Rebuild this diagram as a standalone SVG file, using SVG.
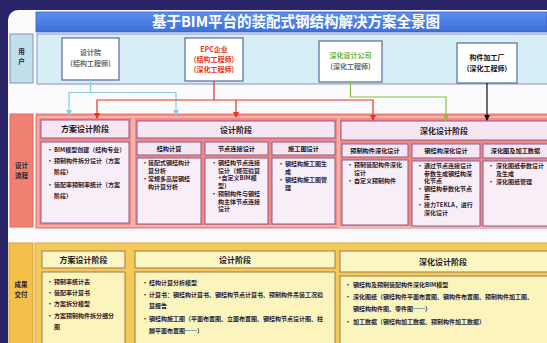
<svg xmlns="http://www.w3.org/2000/svg" width="547" height="343" viewBox="0 0 547 343">
<defs>
<style>
.t{font-family:"Noto Sans CJK SC","Noto Sans",sans-serif;font-weight:bold;}
.c{font-size:6px;fill:#2b2230;}
.h{font-size:8px;fill:#1d1620;text-anchor:middle;}
.sh{font-size:6.2px;fill:#1d1620;text-anchor:middle;}
.lb{font-size:6.5px;fill:#2b2230;text-anchor:middle;}
.fh{fill:#f6e6f4;stroke:#8c5a92;stroke-width:1;}
.fc{fill:#f8eef8;stroke:#8c5a92;stroke-width:1;}
.fg{fill:#f28a80;stroke:#f7b0b0;stroke-width:2;}
.dh{fill:#fcf6c4;stroke:#9c7a4a;stroke-width:1;}
.dc{fill:#fbf4bc;stroke:#9c7a4a;stroke-width:1;}
.user{fill:#ffffff;stroke:#5c6894;stroke-width:1.2;}
.cn{fill:none;stroke-width:1.2;}
</style>
<marker id="mB" markerWidth="6" markerHeight="6" refX="5" refY="3" orient="auto" markerUnits="userSpaceOnUse" viewBox="0 0 6 6"><path d="M0,0 L6,3 L0,6 Z" fill="#8ccbe2"/></marker>
<marker id="mRd" markerWidth="6" markerHeight="6" refX="5" refY="3" orient="auto" markerUnits="userSpaceOnUse" viewBox="0 0 6 6"><path d="M0,0 L6,3 L0,6 Z" fill="#e8321e"/></marker>
<marker id="mG" markerWidth="6" markerHeight="6" refX="5" refY="3" orient="auto" markerUnits="userSpaceOnUse" viewBox="0 0 6 6"><path d="M0,0 L6,3 L0,6 Z" fill="#86c040"/></marker>
<marker id="mK" markerWidth="6" markerHeight="6" refX="5" refY="3" orient="auto" markerUnits="userSpaceOnUse" viewBox="0 0 6 6"><path d="M0,0 L6,3 L0,6 Z" fill="#111111"/></marker>
<linearGradient id="title" x1="0" y1="0" x2="0" y2="1"><stop offset="0" stop-color="#5a8ff0"/><stop offset="1" stop-color="#3f6fd8"/></linearGradient>
</defs>

<rect x="0" y="0" width="547" height="343" fill="#2a2468"/>
<rect x="8" y="10" width="560" height="345" rx="10" fill="#fbfbfd"/>

<g id="title-bar">
<rect x="36" y="12" width="511" height="20" fill="url(#title)" stroke="#3a5cc0" stroke-width="0.8"/>
<text class="t" x="296" y="27" font-size="14.5" fill="#ffffff" text-anchor="middle">基于BIM平台的装配式钢结构解决方案全景图</text>
</g>

<g id="row-users">
<rect x="10" y="34" width="23" height="49" fill="#bfe0ec" stroke="#8a90c0" stroke-width="1"/>
<text class="t lb" x="21.5" y="54">用</text>
<text class="t lb" x="21.5" y="64">户</text>
<rect x="37" y="34" width="512" height="50" fill="#d6eef6" stroke="#8a90c0" stroke-width="1"/>
</g>

<g id="node-sjy">
<rect class="user" x="62" y="38" width="57" height="42"/>
<text class="t" x="90.5" y="55" font-size="7" fill="#6a6a6a" text-anchor="middle">设计院</text>
<text class="t" x="90.5" y="66" font-size="7" fill="#6a6a6a" text-anchor="middle">(结构工程师)</text>
</g>
<g id="node-epc">
<rect class="user" x="185" y="38" width="58" height="43"/>
<text class="t" x="214" y="52" font-size="7" fill="#e8321e" text-anchor="middle">EPC企业</text>
<text class="t" x="214" y="62" font-size="7" fill="#e8321e" text-anchor="middle">(结构工程师)</text>
<text class="t" x="214" y="72" font-size="7" fill="#e8321e" text-anchor="middle">(深化工程师)</text>
</g>
<g id="node-shsj">
<rect class="user" x="319" y="41" width="63" height="41"/>
<text class="t" x="350.5" y="58" font-size="7" fill="#6cb33f" text-anchor="middle">深化设计公司</text>
<text class="t" x="350.5" y="69" font-size="7" fill="#6a6a6a" text-anchor="middle">(深化工程师)</text>
</g>
<g id="node-gjjg">
<rect class="user" x="457" y="43" width="60" height="40"/>
<text class="t" x="487" y="60" font-size="7" fill="#111111" text-anchor="middle">构件加工厂</text>
<text class="t" x="487" y="71" font-size="7" fill="#111111" text-anchor="middle">(深化工程师)</text>
</g>

<g id="row-flow">
<rect x="10" y="114" width="23" height="113" fill="#f08072" stroke="#e06a60" stroke-width="1"/>
<text class="t lb" x="21.5" y="168">设计</text>
<text class="t lb" x="21.5" y="178">流程</text>
<rect x="36" y="114" width="513" height="114" fill="#f28a80" stroke="#e87a72" stroke-width="1"/>
</g>

<g id="flow-fa">
<rect class="fg" x="38" y="117" width="94" height="109"/>
<rect class="fh" x="41" y="120" width="88" height="18"/>
<text class="t h" x="85" y="132">方案设计阶段</text>
<rect class="fc" x="41" y="142" width="88" height="81"/>
<text class="t c"><tspan x="47" y="152">•</tspan><tspan x="54" y="152">BIM模型创建（结构专业）</tspan><tspan x="47" y="163">•</tspan><tspan x="54" y="163">预制构件拆分设计（方案</tspan><tspan x="54" y="174">阶段）</tspan><tspan x="47" y="187">•</tspan><tspan x="54" y="187">装配率预制率统计（方案</tspan><tspan x="54" y="198">阶段）</tspan></text>
</g>

<g id="flow-sj">
<rect class="fg" x="134" y="117" width="204" height="109"/>
<rect class="fh" x="137" y="121" width="198" height="17"/>
<text class="t h" x="236" y="132.5">设计阶段</text>
<rect class="fh" x="137" y="142" width="64" height="13"/>
<text class="t sh" x="169" y="150.5">结构计算</text>
<rect class="fc" x="137" y="158" width="64" height="66"/>
<text class="t c"><tspan x="142" y="165">•</tspan><tspan x="148" y="165">装配式钢结构计</tspan><tspan x="148" y="172.5">算分析</tspan><tspan x="142" y="181">•</tspan><tspan x="148" y="181">常规多高层钢结</tspan><tspan x="148" y="188.5">构计算分析</tspan></text>
<rect class="fh" x="205" y="142" width="63" height="13"/>
<text class="t sh" x="236.5" y="150.5">节点连接设计</text>
<rect class="fc" x="205" y="158" width="63" height="66"/>
<text class="t c"><tspan x="211" y="165">•</tspan><tspan x="218" y="165">钢结构节点连接</tspan><tspan x="218" y="172.5">设计（规范验算</tspan><tspan x="218" y="180">+自定义BIM模</tspan><tspan x="218" y="187.5">型）</tspan><tspan x="211" y="196">•</tspan><tspan x="218" y="196">预制构件与钢结</tspan><tspan x="218" y="203.5">构主体节点连接</tspan><tspan x="218" y="211">设计</tspan></text>
<rect class="fh" x="272" y="142" width="63" height="13"/>
<text class="t sh" x="303.5" y="150.5">施工图设计</text>
<rect class="fc" x="272" y="158" width="63" height="66"/>
<text class="t c"><tspan x="278" y="166">•</tspan><tspan x="285" y="166">钢结构施工图生</tspan><tspan x="285" y="173.5">成</tspan><tspan x="278" y="182">•</tspan><tspan x="285" y="182">钢结构施工图管</tspan><tspan x="285" y="189.5">理</tspan></text>
</g>

<g id="flow-sh">
<rect class="fg" x="339" y="117" width="212" height="110"/>
<rect class="fh" x="341" y="121" width="210" height="19"/>
<text class="t h" x="444" y="133.5">深化设计阶段</text>
<rect class="fh" x="342" y="144" width="66" height="13"/>
<text class="t sh" x="375" y="152.5">预制构件深化设计</text>
<rect class="fc" x="342" y="160" width="66" height="65"/>
<text class="t c"><tspan x="347" y="167">•</tspan><tspan x="354" y="167">预制装配构件深化</tspan><tspan x="354" y="174.5">设计</tspan><tspan x="347" y="183">•</tspan><tspan x="354" y="183">自定义预制构件</tspan></text>
<rect class="fh" x="412" y="144" width="68" height="14"/>
<text class="t sh" x="446" y="153">钢结构深化设计</text>
<rect class="fc" x="412" y="161" width="68" height="65"/>
<text class="t c"><tspan x="417" y="168">•</tspan><tspan x="424" y="168">通过节点连接设计</tspan><tspan x="424" y="175.5">参数生成钢结构深</tspan><tspan x="424" y="183">化节点</tspan><tspan x="417" y="191">•</tspan><tspan x="424" y="191">钢结构参数化节点</tspan><tspan x="424" y="198.5">库</tspan><tspan x="417" y="207">•</tspan><tspan x="424" y="207">接力TEKLA，进行</tspan><tspan x="424" y="214.5">深化设计</tspan></text>
<rect class="fh" x="483" y="144" width="68" height="14"/>
<text class="t sh" x="515.5" y="153">深化图及加工数据</text>
<rect class="fc" x="483" y="161" width="68" height="65"/>
<text class="t c"><tspan x="488" y="168">•</tspan><tspan x="496" y="168">深化图纸参数设计</tspan><tspan x="496" y="175.5">及生成</tspan><tspan x="488" y="184">•</tspan><tspan x="496" y="184">深化图纸管理</tspan></text>
</g>

<g id="row-deliver">
<rect x="9" y="243" width="24" height="102" fill="#f4c04a" stroke="#d8a030" stroke-width="1"/>
<text class="t lb" x="21" y="287">成果</text>
<text class="t lb" x="21" y="297">交付</text>
<rect x="35" y="243" width="514" height="102" fill="#f5c85a" stroke="#dca840" stroke-width="1"/>
</g>

<g id="deliver-fa">
<rect class="dh" x="42" y="251" width="83" height="17"/>
<text class="t h" x="83.5" y="262.5">方案设计阶段</text>
<rect class="dc" x="42" y="272" width="83" height="73"/>
<text class="t c"><tspan x="47" y="284">•</tspan><tspan x="54" y="284">预制率统计表</tspan><tspan x="47" y="295">•</tspan><tspan x="54" y="295">装配率计算书</tspan><tspan x="47" y="306">•</tspan><tspan x="54" y="306">方案拆分模型</tspan><tspan x="47" y="318">•</tspan><tspan x="54" y="318">方案预制构件拆分细分</tspan><tspan x="54" y="329">图</tspan></text>
</g>

<g id="deliver-sj">
<rect class="dh" x="135" y="251" width="200" height="17"/>
<text class="t h" x="235" y="262.5">设计阶段</text>
<rect class="dc" x="135" y="272" width="200" height="73"/>
<text class="t c"><tspan x="142" y="285">•</tspan><tspan x="149" y="285">结构计算分析模型</tspan><tspan x="142" y="296.5">•</tspan><tspan x="149" y="296.5">计算书：钢结构计算书、钢结构节点计算书、预制构件吊装工况验</tspan><tspan x="149" y="308">算报告</tspan><tspan x="142" y="321">•</tspan><tspan x="149" y="321">钢结构施工图（平面布置图、立面布置图、钢结构节点设计图、柱</tspan><tspan x="149" y="333">脚平面布置图……）</tspan></text>
</g>

<g id="deliver-sh">
<rect class="dh" x="340" y="251" width="211" height="21"/>
<text class="t h" x="443" y="264.5">深化设计阶段</text>
<rect class="dc" x="340" y="276" width="211" height="69"/>
<text class="t c"><tspan x="345" y="287">•</tspan><tspan x="353" y="287">钢结构及预制装配构件深化BIM模型</tspan><tspan x="345" y="299">•</tspan><tspan x="353" y="299">深化图纸（钢结构件平面布置图、钢构件布置图、预制构件加工图、</tspan><tspan x="353" y="311">钢结构构件图、零件图……）</tspan><tspan x="345" y="324">•</tspan><tspan x="353" y="324">加工数据（钢结构加工数据、预制构件加工数据）</tspan></text>
</g>

<g id="connectors">
<path class="cn" d="M90.5 80 V92.5 H69 V115" stroke="#8ccbe2" marker-end="url(#mB)"/>
<path class="cn" d="M90.5 92.5 H176 V115" stroke="#8ccbe2" marker-end="url(#mB)"/>
<path class="cn" d="M214 81 V100 H97 V118" stroke="#e8321e" marker-end="url(#mRd)"/>
<path class="cn" d="M214 100 H373 V120" stroke="#e8321e" marker-end="url(#mRd)"/>
<path class="cn" d="M236 100 V117" stroke="#e8321e" marker-end="url(#mRd)"/>
<path class="cn" d="M350.5 82 V97 H446 V120" stroke="#86c040" marker-end="url(#mG)"/>
<path class="cn" d="M487 83 V120" stroke="#111111" marker-end="url(#mK)"/>
</g>
</svg>
